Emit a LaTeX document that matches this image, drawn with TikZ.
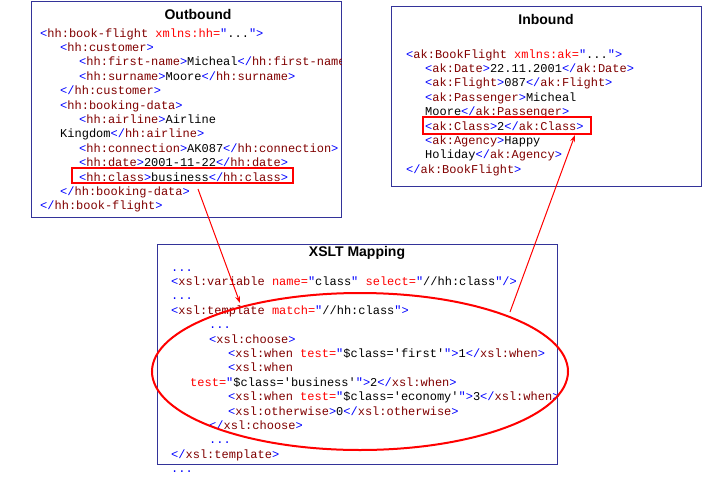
\documentclass[tikz,border=0pt]{standalone}
\usepackage{fontspec}
\setmonofont{Liberation Mono}
\setsansfont{Liberation Sans}
\usetikzlibrary{arrows.meta}
\usetikzlibrary{shapes.geometric}

\definecolor{boxblue}{RGB}{51,51,153}
\definecolor{xblue}{RGB}{0,0,255}
\definecolor{xtag}{RGB}{128,0,0}
\definecolor{xattr}{RGB}{255,0,0}

\newcommand{\xb}[1]{\textcolor{xblue}{#1}}
\newcommand{\xt}[1]{\textcolor{xtag}{#1}}
\newcommand{\xa}[1]{\textcolor{xattr}{#1}}

\tikzset{
  code/.style={anchor=base west, inner sep=0pt, font=\ttfamily\fontsize{12}{14.4}\selectfont},
  title/.style={inner sep=0pt, font=\sffamily\bfseries\fontsize{14}{16}\selectfont},
  frame/.style={draw=boxblue, line width=1pt},
  hl/.style={draw=red, line width=2pt, inner sep=0pt},
  link/.style={draw=red, line width=1pt, -{Stealth[length=7pt,width=5pt]}}
}

\begin{document}
\begin{tikzpicture}[x=1pt,y=-1pt]
    \useasboundingbox (0,0) rectangle (721,480);

		% outbound message
		\draw [frame] (31.5,1.5) rectangle (341,217.5);
		\node [title] (tout) at (198,14) {Outbound};
		\begin{scope}
		\clip (31.5,1.5) rectangle (341,217.5);
		\node [code] (o1) at (40,37) {\xb{<}\xt{hh:book-flight} \xa{xmlns:hh=}\xb{"}...\xb{">}};
		\node [code] (o2) at (60,51.4) {\xb{<}\xt{hh:customer}\xb{>}};
		\node [code] (o3) at (79,65.8) {\xb{<}\xt{hh:first-name}\xb{>}Micheal\xb{</}\xt{hh:first-name}\xb{>}};
		\node [code] (o4) at (79,80.2) {\xb{<}\xt{hh:surname}\xb{>}Moore\xb{</}\xt{hh:surname}\xb{>}};
		\node [code] (o5) at (60,94.6) {\xb{</}\xt{hh:customer}\xb{>}};
		\node [code] (o6) at (60,109) {\xb{<}\xt{hh:booking-data}\xb{>}};
		\node [code] (o7) at (79,123.4) {\xb{<}\xt{hh:airline}\xb{>}Airline};
		\node [code] (o8) at (60,137.8) {Kingdom\xb{</}\xt{hh:airline}\xb{>}};
		\node [code] (o9) at (79,152.2) {\xb{<}\xt{hh:connection}\xb{>}AK087\xb{</}\xt{hh:connection}\xb{>}};
		\node [code] (o10) at (79,166.6) {\xb{<}\xt{hh:date}\xb{>}2001-11-22\xb{</}\xt{hh:date}\xb{>}};
		\node [code] (o11) at (79,181) {\xb{<}\xt{hh:class}\xb{>}business\xb{</}\xt{hh:class}\xb{>}};
		\node [code] (o12) at (60,195.4) {\xb{</}\xt{hh:booking-data}\xb{>}};
		\node [code] (o13) at (40,209.8) {\xb{</}\xt{hh:book-flight}\xb{>}};
		\end{scope}
		\node [hl, minimum width=221pt, minimum height=15pt] (hlout) at (182.5,175.5) {};

		% inbound message
		\draw [frame] (391,6) rectangle (701,186);
		\node [title] (tin) at (546,19) {Inbound};
		\node [code] (i1) at (406,58) {\xb{<}\xt{ak:BookFlight} \xa{xmlns:ak=}\xb{"}...\xb{">}};
		\node [code] (i2) at (425,72.4) {\xb{<}\xt{ak:Date}\xb{>}22.11.2001\xb{</}\xt{ak:Date}\xb{>}};
		\node [code] (i3) at (425,86.8) {\xb{<}\xt{ak:Flight}\xb{>}087\xb{</}\xt{ak:Flight}\xb{>}};
		\node [code] (i4) at (425,101.2) {\xb{<}\xt{ak:Passenger}\xb{>}Micheal};
		\node [code] (i5) at (425,115.6) {Moore\xb{</}\xt{ak:Passenger}\xb{>}};
		\node [code] (i6) at (425,130) {\xb{<}\xt{ak:Class}\xb{>}2\xb{</}\xt{ak:Class}\xb{>}};
		\node [code] (i7) at (425,144.4) {\xb{<}\xt{ak:Agency}\xb{>}Happy};
		\node [code] (i8) at (425,158.8) {Holiday\xb{</}\xt{ak:Agency}\xb{>}};
		\node [code] (i9) at (406,173.2) {\xb{</}\xt{ak:BookFlight}\xb{>}};
		\node [hl, minimum width=168pt, minimum height=17pt] (hlin) at (507,125.5) {};

		% mapping
		\draw [frame] (157,244) rectangle (557,464);
		\node [title] (tmap) at (357,253) {XSLT Mapping};
		\node [code] (m1) at (171,271) {\xb{...}};
		\node [code] (m2) at (171,285.4) {\xb{<}\xt{xsl:variable} \xa{name=}\xb{"}class\xb{"} \xa{select=}\xb{"}//hh:class\xb{"/>}};
		\node [code] (m3) at (171,299.8) {\xb{...}};
		\node [code] (m4) at (171,314.2) {\xb{<}\xt{xsl:template} \xa{match=}\xb{"}//hh:class\xb{">}};
		\node [code] (m5) at (209,328.6) {\xb{...}};
		\node [code] (m6) at (209,343) {\xb{<}\xt{xsl:choose}\xb{>}};
		\node [code] (m7) at (228,357.4) {\xb{<}\xt{xsl:when} \xa{test=}\xb{"}\$class='first'\xb{">}1\xb{</}\xt{xsl:when}\xb{>}};
		\node [code] (m8) at (228,371.8) {\xb{<}\xt{xsl:when}};
		\node [code] (m9) at (190,386.2) {\xa{test=}\xb{"}\$class='business'\xb{">}2\xb{</}\xt{xsl:when}\xb{>}};
		\node [code] (m10) at (228,400.6) {\xb{<}\xt{xsl:when} \xa{test=}\xb{"}\$class='economy'\xb{">}3\xb{</}\xt{xsl:when}\xb{>}};
		\node [code] (m11) at (228,415) {\xb{<}\xt{xsl:otherwise}\xb{>}0\xb{</}\xt{xsl:otherwise}\xb{>}};
		\node [code] (m12) at (209,429.4) {\xb{</}\xt{xsl:choose}\xb{>}};
		\node [code] (m13) at (209,443.8) {\xb{...}};
		\node [code] (m14) at (171,458.2) {\xb{</}\xt{xsl:template}\xb{>}};
		\node [code] (m15) at (171,472.6) {\xb{...}};

		\node [ellipse, draw=red, line width=2pt, inner sep=0pt, minimum width=416pt, minimum height=157pt] (choice) at (360,371.5) {};

		\coordinate (a1) at ([shift={(15.5,5)}]hlout.south);
		\coordinate (a1tip) at (240,303);
		\coordinate (a2) at (510,312);
		\draw [link] (a1) -- (a1tip);
		\draw [link] (a2) -- ([xshift=68pt]hlin.south);
\end{tikzpicture}
\end{document}
